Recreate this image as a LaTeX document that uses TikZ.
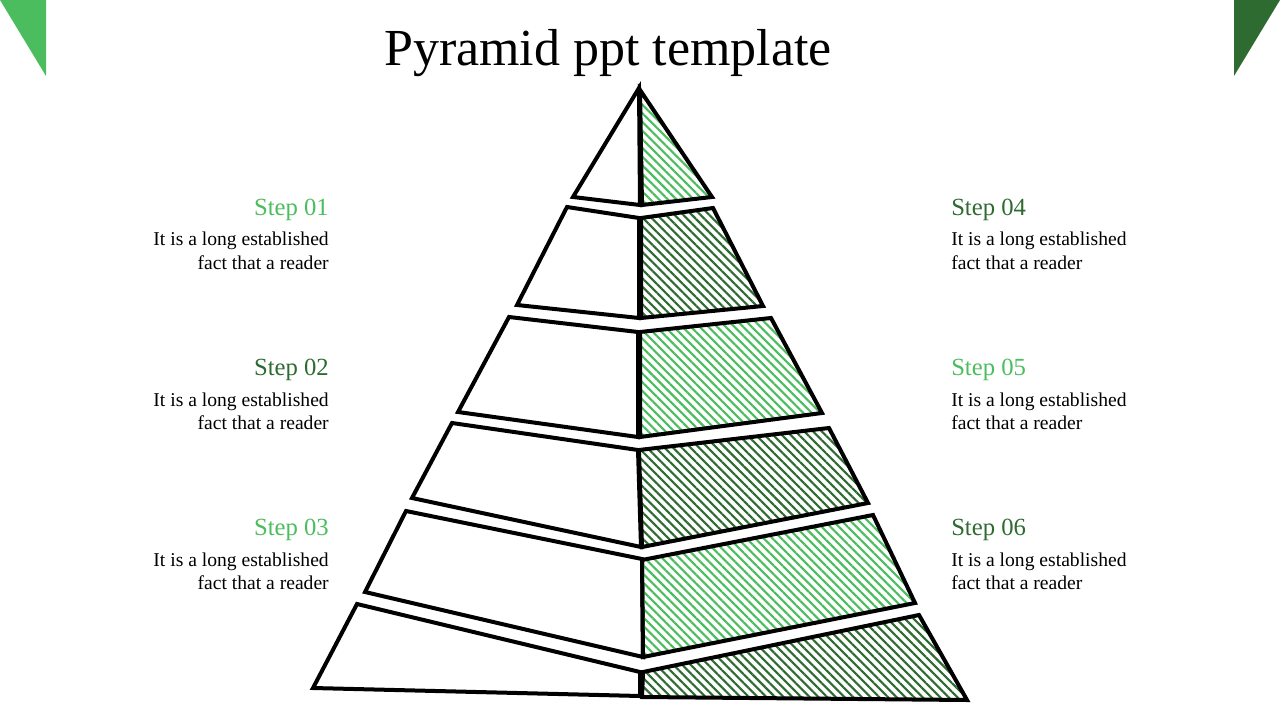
\documentclass[tikz,border=0pt]{standalone}
\usepackage{fontspec}
\setmainfont{Liberation Serif}
\usetikzlibrary{patterns.meta}
\definecolor{lightgreen}{HTML}{4BBD5E}
\definecolor{darkgreen}{HTML}{2D6B30}

\begin{document}
\begin{tikzpicture}[x=0.75pt,y=-0.75pt,
    edge/.style={draw=black,line width=3pt},
    hatch/.style={edge,pattern={Lines[angle=-45,distance=4.6pt,line width=1.6pt]},pattern color=#1},
    head/.style={font=\fontsize{18.5}{22}\selectfont,inner sep=0pt},
    body/.style={font=\fontsize{14.7}{17.25}\selectfont,inner sep=0pt}]

\useasboundingbox (0,0) rectangle (1280,720);

% corner flags
\fill[lightgreen] (0,0) -- (46,0) -- (46,76) -- cycle;
\fill[darkgreen] (1234,0) -- (1280,0) -- (1234,76) -- cycle;

\node[font=\fontsize{39}{46}\selectfont,inner sep=0pt,anchor=base] (title) at (608,66) {Pyramid ppt template};

% left halves
\draw[edge,fill=white] (639,88) -- (573,197) -- (640,205) -- cycle;
\draw[edge,fill=white] (567,207) -- (517,305) -- (639,318) -- (639,218) -- cycle;
\draw[edge,fill=white] (509,317) -- (458,412) -- (638,437) -- (638,332) -- cycle;
\draw[edge,fill=white] (452,423) -- (412,498) -- (641,547) -- (638,450) -- cycle;
\draw[edge,fill=white] (406,511) -- (365,592) -- (643,657) -- (642,559) -- cycle;
\draw[edge,fill=white] (357,604) -- (313,688) -- (640,696) -- (640,672) -- cycle;

% right halves
\draw[hatch=lightgreen] (640,90) -- (712,197) -- (642,205) -- cycle;
\draw[hatch=darkgreen] (641,218) -- (713,208) -- (763,306) -- (641,318) -- cycle;
\draw[hatch=lightgreen] (640,332) -- (771,318) -- (822,413) -- (640,437) -- cycle;
\draw[hatch=darkgreen] (639,450) -- (829,428) -- (868,503) -- (642,547) -- cycle;
\draw[hatch=lightgreen] (642,560) -- (873,515) -- (915,603) -- (643,657) -- cycle;
\draw[hatch=darkgreen] (643,672) -- (919,615) -- (967,700) -- (642,697) -- cycle;

% steps, left
\foreach \n/\y/\c in {01/215/lightgreen, 02/375/darkgreen, 03/535/lightgreen}
{
  \node[head,text=\c,anchor=base east] (step\n) at (329,\y) {Step \n};
  \node[body,align=right,anchor=base east] (text\n) at (329,\y+54) {It is a long established\\fact that a reader};
}

% steps, right
\foreach \n/\y/\c in {04/215/darkgreen, 05/375/lightgreen, 06/535/darkgreen}
{
  \node[head,text=\c,anchor=base west] (step\n) at (951,\y) {Step \n};
  \node[body,align=left,anchor=base west] (text\n) at (951,\y+54) {It is a long established\\fact that a reader};
}
\end{tikzpicture}
\end{document}
